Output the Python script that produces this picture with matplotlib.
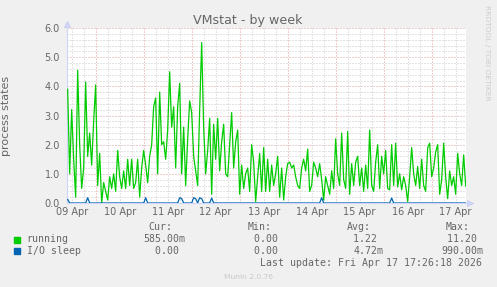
import matplotlib
matplotlib.use("Agg")
import matplotlib.pyplot as plt
import matplotlib.patches as patches
import numpy as np
import pandas as pd

# hourly samples, 09 Apr 10:00 -> 17 Apr 17:00
running = [
    # 09 Apr (10h-23h)
    3.9, 1.0, 3.2, 1.5, 0.2, 4.55, 2.0, 0.5, 1.2, 4.15, 1.6, 2.4, 1.3, 2.8,
    # 10 Apr
    4.05, 0.6, 1.7, 0.0, 0.7, 0.4, 0.1, 0.9, 0.5, 1.0, 0.4, 1.8,
    0.9, 0.5, 1.1, 0.5, 1.5, 0.6, 1.5, 0.5, 0.7, 1.5, 0.2, 1.2,
    # 11 Apr
    1.8, 1.3, 0.7, 1.6, 2.0, 3.3, 3.6, 1.0, 3.8, 2.0, 2.1, 1.5,
    2.5, 4.5, 2.6, 3.3, 1.2, 3.3, 4.1, 1.0, 2.6, 0.6, 2.2, 3.5,
    # 12 Apr
    3.1, 1.6, 1.1, 0.6, 3.2, 5.5, 2.6, 1.0, 1.8, 2.9, 0.3, 2.7,
    1.5, 2.9, 1.1, 2.1, 2.7, 1.0, 0.9, 2.0, 3.1, 1.2, 2.1, 2.5,
    # 13 Apr
    0.3, 1.3, 0.5, 1.0, 1.2, 0.4, 2.0, 1.4, 0.05, 0.9, 1.7, 0.4,
    1.9, 0.4, 1.5, 0.4, 1.3, 0.6, 1.0, 1.6, 0.2, 1.2, 0.1, 0.9,
    # 14 Apr
    1.35, 1.4, 1.2, 1.3, 0.9, 0.6, 0.5, 1.2, 1.5, 1.1, 1.85, 0.4,
    0.6, 1.4, 1.2, 0.9, 1.35, 0.8, 0.1, 0.9, 0.6, 0.3, 1.1, 0.5,
    # 15 Apr
    2.2, 1.0, 0.6, 2.4, 0.8, 0.5, 2.45, 0.3, 1.35, 0.6, 1.4, 1.6,
    0.6, 1.2, 0.4, 1.3, 0.5, 2.5, 0.6, 0.4, 1.4, 2.0, 0.5, 1.6,
    # 16 Apr
    1.0, 1.8, 0.5, 0.45, 2.0, 0.6, 2.05, 0.55, 1.0, 0.45, 0.9, 0.6,
    0.05, 0.9, 1.9, 1.0, 0.6, 1.25, 0.5, 1.5, 0.6, 0.4, 1.9, 2.05,
    # 17 Apr (0h-17h)
    0.9, 1.2, 1.75, 2.0, 0.3, 0.8, 2.05, 0.9, 0.15, 1.1, 0.6, 0.9,
    0.3, 1.7, 1.0, 0.6, 1.65, 0.585,
]

# I/O sleep is zero except for a few short blips
io_spike_idx = [0, 10, 39, 56, 57, 63, 64, 66, 67, 72, 127, 162]
io_spike_val = [0.12, 0.18, 0.18, 0.18, 0.15, 0.18, 0.15, 0.18, 0.15, 0.17, 0.18, 0.17]
io_sleep = [0.0] * len(running)
for i, v in zip(io_spike_idx, io_spike_val):
    io_sleep[i] = v

day_labels = ["09 Apr", "10 Apr", "11 Apr", "12 Apr", "13 Apr",
              "14 Apr", "15 Apr", "16 Apr", "17 Apr"]
y_labels = ["0.0", "1.0", "2.0", "3.0", "4.0", "5.0", "6.0"]

legend_names = ["running", "I/O sleep"]
legend_colors = ["#00CC00", "#0066B3"]
cur_vals = ["585.00m", "0.00 "]
min_vals = ["0.00 ", "0.00 "]
avg_vals = ["1.22 ", "4.72m"]
max_vals = ["11.20 ", "990.00m"]

W, H = 497, 287
FONT = "#666666"


def px(x, y):
    """pixel position -> figure fraction"""
    return x / W, 1 - y / H


fig = plt.figure(figsize=(W / 100, H / 100), dpi=100, facecolor="#F0F0F0")
ax = fig.add_axes([67 / W, 84 / H, 399 / W, 175 / H])
ax.set_facecolor("white")

times = pd.date_range("2026-04-09 10:00", periods=len(running), freq="h")
x0 = pd.Timestamp("2026-04-09 09:40")
x1 = pd.Timestamp("2026-04-17 17:10")

ax.plot(times, running, color=legend_colors[0], lw=0.9, zorder=3)
ax.plot(times, io_sleep, color=legend_colors[1], lw=0.9, zorder=4)
ax.set_xlim(x0, x1)
ax.set_ylim(0, 6)

# grid: grey every 6h / 0.2, red at midnight / every 1.0
dots = (0, (1, 2))
for t in pd.date_range("2026-04-09 12:00", "2026-04-17 18:00", freq="6h"):
    if x0 < t < x1:
        c = "#E09C9C" if t.hour == 0 else "#C8C8C8"
        ax.axvline(t, color=c, lw=0.72, ls=dots, zorder=1 if t.hour else 2)
for k in range(1, 31):
    y = k * 0.2
    c = "#E09C9C" if k % 5 == 0 else "#C8C8C8"
    ax.axhline(y, color=c, lw=0.72, ls=dots, zorder=2 if k % 5 == 0 else 1)

ax.set_xticks([pd.Timestamp(f"2026-04-{d[:2]} 12:00") for d in day_labels])
ax.set_xticklabels(day_labels)
ax.set_yticks(range(len(y_labels)))
ax.set_yticklabels(y_labels)
ax.tick_params(axis="x", length=0, pad=2.9, labelsize=7, labelcolor=FONT)
ax.tick_params(axis="y", length=0, pad=5.0, labelsize=7, labelcolor=FONT)

for s in ["top", "right"]:
    ax.spines[s].set_visible(False)
for s in ["left", "bottom"]:
    ax.spines[s].set_color("#CFD6F8")
    ax.spines[s].set_linewidth(0.8)

# axis arrows
ax.plot([0], [1.025], marker="^", ms=4.5, color="#CFD6F8", mec="#B8C2F0",
        mew=0.4, transform=ax.transAxes, clip_on=False)
ax.plot([1.01], [0], marker=">", ms=4.5, color="#CFD6F8", mec="#B8C2F0",
        mew=0.4, transform=ax.transAxes, clip_on=False)

ax.set_ylabel("process states", fontsize=8, color=FONT, labelpad=0)
ax.yaxis.set_label_coords(-(67 - 11.3) / 399, 0.5)

fig.text(*px(248, 24), "VMstat - by week", fontsize=9.1, color=FONT,
         ha="center", va="baseline")
fig.text(*px(487.3, 53.3), "RRDTOOL / TOBI OETIKER", fontsize=5.4,
         color="#CCCCCC", rotation=270, ha="center", va="center")

# legend block
mono = "DejaVu Sans Mono"
fs = 7.1
for label, xr in zip(["Cur:", "Min:", "Avg:", "Max:"], [172.3, 271.7, 371, 470]):
    fig.text(*px(xr, 230.5), label, family=mono, fontsize=fs, color=FONT,
             ha="right", va="baseline")

rows_y = [242.2, 253.9]
for i, name in enumerate(legend_names):
    yb = rows_y[i]
    fig.patches.append(patches.Rectangle(px(14, yb + 0.5), 6 / W, 6 / H,
                                         transform=fig.transFigure,
                                         color=legend_colors[i]))
    fig.text(*px(26.7, yb), name, family=mono, fontsize=fs, color=FONT,
             ha="left", va="baseline")
    cols = [cur_vals[i], min_vals[i], avg_vals[i], max_vals[i]]
    for val, xr in zip(cols, [185, 284, 383.3, 483]):
        fig.text(*px(xr, yb), val, family=mono, fontsize=fs, color=FONT,
                 ha="right", va="baseline")

fig.text(*px(482.5, 265.5), "Last update: Fri Apr 17 17:26:18 2026",
         family=mono, fontsize=fs, color=FONT, ha="right", va="baseline")
fig.text(*px(248, 278.8), "Munin 2.0.76", fontsize=5.4, color="#C8C8C8",
         ha="center", va="baseline")

fig.savefig("out.png", dpi=100, facecolor=fig.get_facecolor())
